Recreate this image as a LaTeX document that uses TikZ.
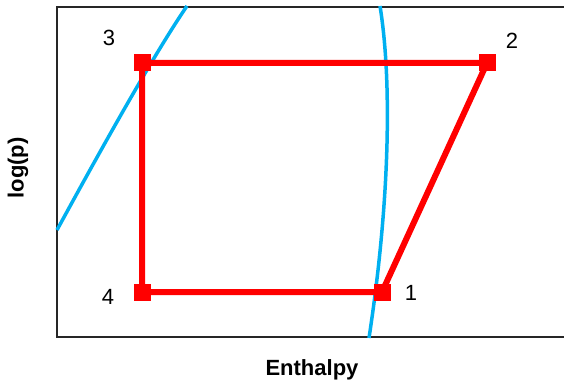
\documentclass[tikz,border=0pt]{standalone}
\usepackage{fontspec}
\setmainfont{Liberation Sans}
\begin{document}
\begin{tikzpicture}[x=1pt,y=-1pt,
  framel/.style={line width=2pt,draw=black!85},
  sat/.style={line width=3.5pt,draw={rgb,255:red,0;green,176;blue,240}},
  cyc/.style={line width=6pt,draw=red},
  corner/.style={fill=red,minimum size=17pt,inner sep=0pt,outer sep=0pt,rectangle},
  num/.style={font=\fontsize{22}{22}\selectfont,inner sep=0pt},
  axl/.style={font=\fontsize{22}{22}\selectfont\bfseries,inner sep=0pt}]
\useasboundingbox (0,0) rectangle (564,385);
% frame
\draw[framel] (566,7) -- (57,7) -- (57,337) -- (566,337);
% saturation curves
\coordinate (a0) at (57,230);
\coordinate (a1) at (187,6);
\coordinate (b0) at (380,6);
\coordinate (b1) at (369,338);
\draw[sat] (a0) .. controls (87,175) and (150,60) .. (a1);
\draw[sat] (b0) .. controls (392,80) and (390,200) .. (b1);
% cycle points
\node[corner] (n1) at (382,292) {};
\node[corner] (n2) at (487,63) {};
\node[corner] (n3) at (142,63) {};
\node[corner] (n4) at (142,292) {};
\draw[cyc] (n1.center) -- (n2.center) -- (n3.center) -- (n4.center) -- (n1.center);
\node[corner] at (n1) {};
\node[corner] at (n2) {};
\node[corner] at (n3) {};
\node[corner] at (n4) {};
% labels
\node[num] (l1) at (411,293) {1};
\node[num] (l2) at (512,41) {2};
\node[num] (l3) at (109,38) {3};
\node[num] (l4) at (108,297) {4};
\node[axl] (xl) at (312,370) {Enthalpy};
\node[axl,rotate=90] (yl) at (18,168) {log(p)};
\end{tikzpicture}
\end{document}
